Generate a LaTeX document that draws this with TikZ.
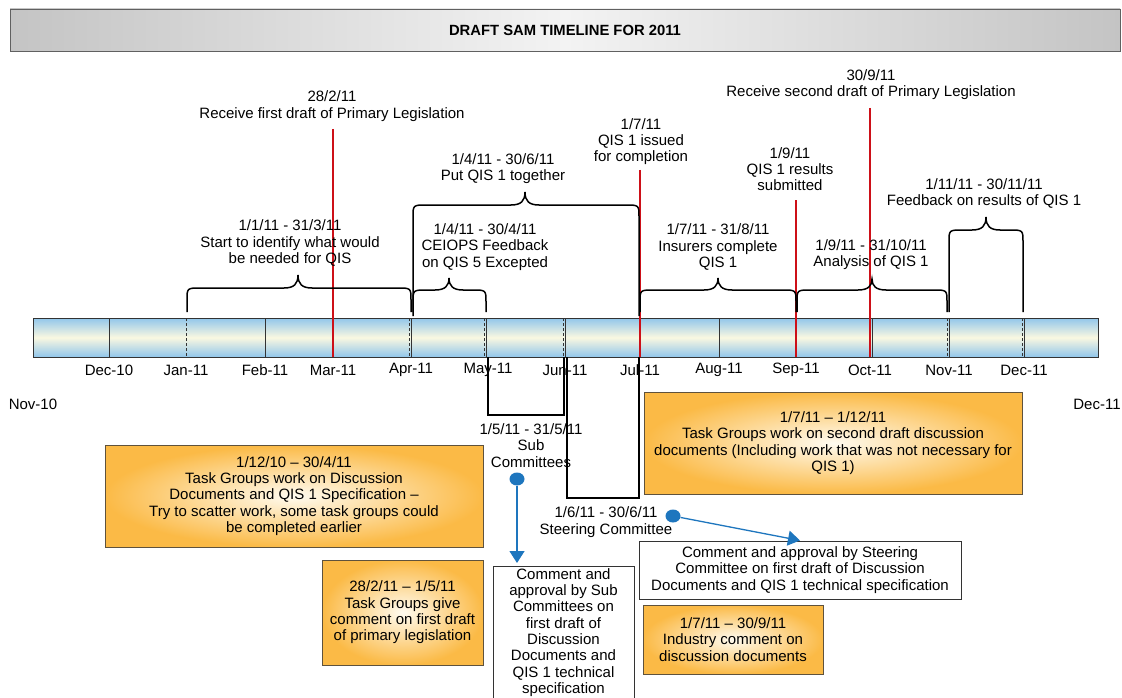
\documentclass[tikz,border=0pt]{standalone}
\usepackage{fontspec}
\setmainfont{Liberation Sans}
\usetikzlibrary{shapes.geometric,arrows.meta}

\definecolor{tlred}{RGB}{205,16,24}
\definecolor{tlblue}{RGB}{30,118,190}
\definecolor{barblue}{RGB}{145,198,235}
\definecolor{barcream}{RGB}{250,248,225}
\definecolor{boxorange}{RGB}{251,186,70}
\definecolor{boxcenter}{RGB}{255,251,240}
\definecolor{boxedge}{RGB}{95,82,60}
\definecolor{titlegray}{RGB}{196,196,196}
\definecolor{titlelight}{RGB}{243,243,243}

\newcommand\tlbrace[6]{% x1 x2 ybottom yhoriz xtip ytip
  \draw[bracestyle] (#1,#3) -- (#1,#4+12) .. controls (#1,#4) .. (#1+14,#4)
    -- (#5-14,#4) .. controls (#5-4,#4) and (#5,#4-4) .. (#5,#6)
    .. controls (#5,#4-4) and (#5+4,#4) .. (#5+14,#4)
    -- (#2-14,#4) .. controls (#2,#4) .. (#2,#4+12) -- (#2,#3);
}

\begin{document}
\begin{tikzpicture}[x=1pt,y=-1pt,
  every node/.style={font=\fontsize{15}{16.3}\selectfont, inner sep=0pt, align=center},
  titlebar/.style={draw=gray!75!black, line width=0.8pt, left color=titlegray, right color=titlegray, middle color=titlelight, minimum width=1110pt, minimum height=42pt, font=\fontsize{14.8}{16}\selectfont\bfseries},
  barstyle/.style={draw=black!80, line width=1pt, top color=barblue, bottom color=barblue, middle color=barcream, minimum width=1065pt, minimum height=39pt},
  divider/.style={draw=black!80, line width=0.9pt},
  dashdivider/.style={draw=black!80, line width=0.9pt, dash pattern=on 3pt off 2pt},
  redline/.style={draw=tlred, line width=1.3pt},
  bracestyle/.style={draw=black, line width=1.5pt},
  bracket/.style={draw=black, line width=1.5pt},
  obox/.style={draw=boxedge, line width=1pt, inner color=boxcenter, outer color=boxorange},
  wbox/.style={draw=black!80, line width=1pt, fill=white},
  bluedot/.style={ellipse, fill=tlblue, minimum width=15pt, minimum height=13pt},
  bluearrow/.style={draw=tlblue, line width=1.3pt, -{Triangle[width=15pt,length=12pt]}}
]
\clip (0,0) rectangle (1122,698);
\useasboundingbox (0,0) rectangle (1122,698);
\fill[white] (0,0) rectangle (1122,698);

% title
\node[titlebar] (title) at (565,30) {DRAFT SAM TIMELINE FOR 2011};

% timeline bar
\node[barstyle] (bar) at (565.5,337.5) {};
\foreach \x in {109,265,411,486,565,719,872,949,1024}
  \draw[divider] (\x,318) -- (\x,357);
\foreach \x in {186,640,796,409,484,563,947,1022}
  \draw[dashdivider] (\x,318) -- (\x,357);

% month labels
\foreach \x/\m [count=\i] in {109/Dec-10,186/Jan-11,265/Feb-11,333/Mar-11,411/Apr-11,488/May-11,565/Jun-11,640/Jul-11,719/Aug-11,796/Sep-11,870/Oct-11,949/Nov-11,1024/Dec-11}
  \node (mon\i) at (\x,370) {\m};
\node (nov10) at (33,404) {Nov-10};
\node (dec11) at (1097,404) {Dec-11};

% top labels and red markers
\node (l28) at (332,106) {28/2/11\\Receive first draft of Primary Legislation};
\node (l17) at (641,141.5) {1/7/11\\QIS 1 issued\\for completion};
\node (l19) at (790,169) {1/9/11\\QIS 1 results\\submitted};
\node (l309) at (871,84.5) {30/9/11\\Receive second draft of Primary Legislation};

\coordinate (r1a) at (333,129); \coordinate (r1b) at (333,357);
\coordinate (r2a) at (640,170); \coordinate (r2b) at (640,357);
\coordinate (r3a) at (796,200); \coordinate (r3b) at (796,357);
\coordinate (r4a) at (870,108); \coordinate (r4b) at (870,357);
\draw[redline] (r1a) -- (r1b);
\draw[redline] (r2a) -- (r2b);
\draw[redline] (r3a) -- (r3b);
\draw[redline] (r4a) -- (r4b);

% brace labels
\node (bA) at (290,243) {1/1/11 - 31/3/11\\Start to identify what would\\be needed for QIS};
\node (bB) at (485,247) {1/4/11 - 30/4/11\\CEIOPS Feedback\\on QIS 5 Excepted};
\node (bC) at (503,168.5) {1/4/11 - 30/6/11\\Put QIS 1 together};
\node (bD) at (718,247) {1/7/11 - 31/8/11\\Insurers complete\\QIS 1};
\node (bE) at (871,254.5) {1/9/11 - 31/10/11\\Analysis of QIS 1};
\node (bF) at (984,193.5) {1/11/11 - 30/11/11\\Feedback on results of QIS 1};

% braces
\tlbrace{187}{411}{312}{288}{298}{275}
\tlbrace{413}{486}{312}{290}{449}{278}
\tlbrace{413}{639}{316}{205}{525}{192}
\tlbrace{640}{796}{312}{290}{718}{278}
\tlbrace{797}{947}{312}{290}{872}{279}
\tlbrace{949}{1023}{312}{230}{986}{217}

% committee brackets below the bar
\draw[bracket] (488,357) -- (488,415) -- (564,415) -- (564,357);
\draw[bracket] (567,357) -- (567,498) -- (639,498) -- (639,357);
\node (lsub) at (531,445.5) {1/5/11 - 31/5/11\\Sub\\Committees};
\node (lsteer) at (606,522) {1/6/11 - 30/6/11\\Steering Committee};

% orange boxes
\node[obox, minimum width=378pt, minimum height=102pt] (ob1) at (294,496)
  {1/12/10 – 30/4/11\\Task Groups work on Discussion\\Documents and QIS 1 Specification –\\Try to scatter work, some task groups could\\be completed earlier};
\node[obox, minimum width=378pt, minimum height=102pt] (ob2) at (833,443)
  {1/7/11 – 1/12/11\\Task Groups work on second draft discussion\\documents (Including work that was not necessary for\\QIS 1)};
\node[obox, minimum width=161pt, minimum height=105pt] (ob3) at (402.5,612.5)
  {28/2/11 – 1/5/11\\Task Groups give\\comment on first draft\\of primary legislation};
\node[obox, minimum width=180pt, minimum height=69pt] (ob4) at (733,639.5)
  {1/7/11 – 30/9/11\\Industry comment on\\discussion documents};

% white boxes
\node[wbox, minimum width=322pt, minimum height=58pt] (wsteer) at (800,570)
  {Comment and approval by Steering\\Committee on first draft of Discussion\\Documents and QIS 1 technical specification};
\node[wbox, minimum width=141pt, minimum height=150pt, anchor=north] (wsub) at (563.5,566) {};
\node (wsubtxt) at (563.5,632.5) {Comment and\\approval by Sub\\Committees on\\first draft of\\Discussion\\Documents and\\QIS 1 technical\\specification};

% blue arrows
\node[bluedot] (d1) at (517,479) {};
\node[bluedot] (d2) at (673,516) {};
\coordinate (a1) at (517,563);
\draw[bluearrow] (d1) -- (a1);
\draw[bluearrow] (d2) -- (wsteer.north);
\end{tikzpicture}
\end{document}
